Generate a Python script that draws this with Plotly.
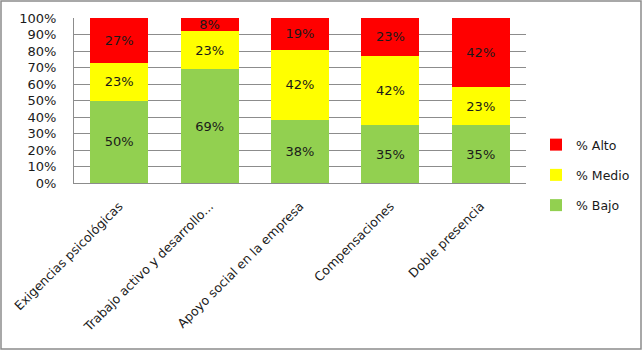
import plotly.graph_objects as go

categories = ["Exigencias psicológicas", "Trabajo activo y desarrollo...",
              "Apoyo social en la empresa", "Compensaciones", "Doble presencia"]
bajo = [50, 69, 38, 35, 35]
medio = [23, 23, 42, 42, 23]
alto = [27, 8, 19, 23, 42]
series = [("% Bajo", bajo, "#92D050", 3), ("% Medio", medio, "#FFFF00", 2), ("% Alto", alto, "#FF0000", 1)]
ytick_vals = [0, 10, 20, 30, 40, 50, 60, 70, 80, 90, 100]
ytick_text = [f"{v}%" for v in ytick_vals]

FONT = "DejaVu Sans"
TXT = "#1a1a1a"

fig = go.Figure()
for name, vals, color, rank in series:
    fig.add_trace(go.Bar(
        x=categories, y=vals, name=name, legendgroup=name, legendrank=rank,
        marker=dict(color=color, line=dict(width=0)),
        text=[f"{v}%" for v in vals], textposition="inside",
        insidetextanchor="middle", textangle=0,
        textfont=dict(family=FONT, size=13, color=TXT),
        hoverinfo="skip",
    ))

W, H = 643, 351
L, R, T, B = 74, 526, 18, 183
pw, ph = R - L, B - T

def px_x(p):
    return (p - L) / pw

def px_y(p):
    return (B - p) / ph

fig.update_layout(
    width=W, height=H,
    margin=dict(l=L, r=W - R, t=T, b=H - B, pad=0, autoexpand=False),
    barmode="stack", barnorm="percent", bargap=0.36,
    plot_bgcolor="white", paper_bgcolor="white",
    font=dict(family=FONT, size=12.5, color=TXT),
    uniformtext=dict(minsize=8, mode="show"),
    xaxis=dict(
        tickangle=-45, showgrid=False, showline=True, linecolor="#8c8c8c",
        linewidth=1, ticks="", ticklabelstandoff=10,
        tickfont=dict(family=FONT, size=12.5, color=TXT),
    ),
    yaxis=dict(
        range=[0, 100], tickvals=ytick_vals, ticktext=ytick_text,
        showgrid=True, gridcolor="#8c8c8c", gridwidth=1,
        showline=True, linecolor="#8c8c8c", linewidth=1, zeroline=False,
        ticks="", ticklabelstandoff=14,
        tickfont=dict(family=FONT, size=13, color=TXT),
    ),
    legend=dict(
        x=px_x(536), y=px_y(130), xanchor="left", yanchor="top",
        traceorder="grouped", tracegroupgap=11,
        font=dict(family=FONT, size=12.5, color=TXT),
        itemwidth=30, bgcolor="rgba(0,0,0,0)",
    ),
    shapes=[dict(
        type="rect", xref="paper", yref="paper",
        x0=px_x(1), x1=px_x(641), y0=px_y(349), y1=px_y(1),
        line=dict(color="#8c8c8c", width=1.5), fillcolor="rgba(0,0,0,0)",
    )],
    showlegend=True,
)

fig.write_html("out.html")
